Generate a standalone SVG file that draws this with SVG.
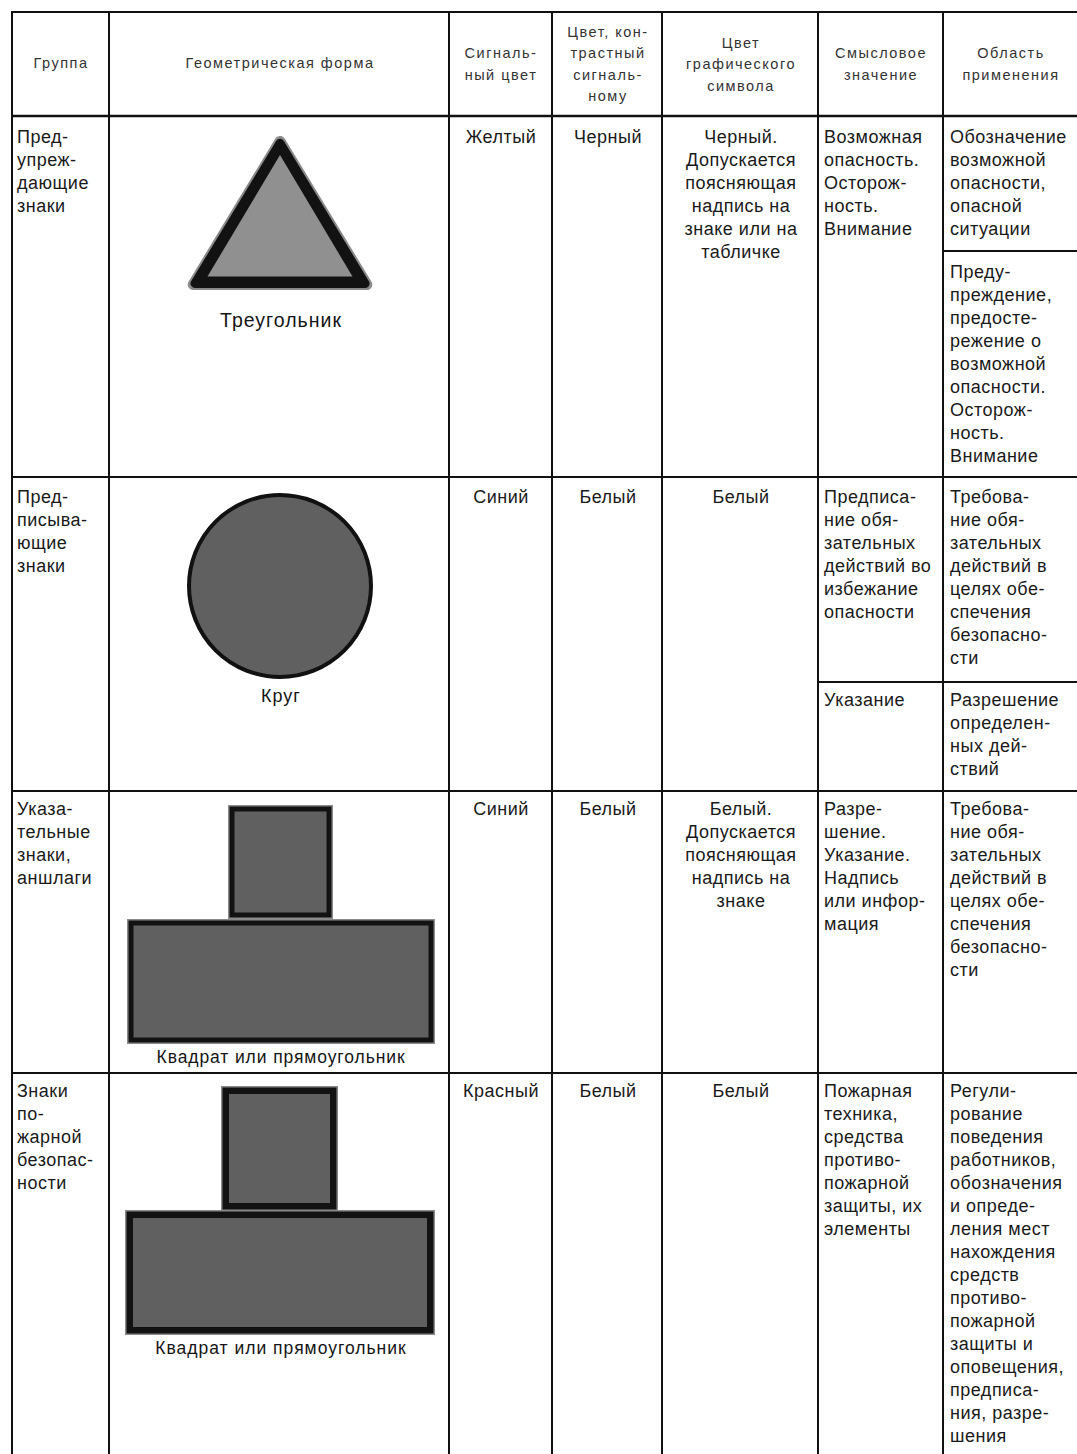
<svg xmlns="http://www.w3.org/2000/svg" width="1077" height="1454" viewBox="0 0 1077 1454">
<style>
.bg{fill:#ffffff}
.ln{stroke:#111;stroke-width:2;fill:none}
.lnh{stroke:#111;stroke-width:2.6;fill:none}
.hd{font-family:"Liberation Sans",Arial,sans-serif;font-size:14.5px;letter-spacing:1.5px;fill:#333;text-anchor:middle}
.t{font-family:"Liberation Sans",Arial,sans-serif;font-size:18px;letter-spacing:0.5px;fill:#1a1a1a}
.c{text-anchor:middle}
.cap{font-family:"Liberation Sans",Arial,sans-serif;fill:#151515;text-anchor:middle}
.dk{fill:#606060}
.blk{fill:#121212}
.gr{fill:#8a8a8a}
</style>
<rect class="bg" x="0" y="0" width="1077" height="1454"/>

<g id="connectors">
  <line class="ln" x1="12" y1="12" x2="1077" y2="12"/>
  <line class="lnh" x1="12" y1="116" x2="1077" y2="116"/>
  <line class="ln" x1="12" y1="477" x2="1077" y2="477"/>
  <line class="ln" x1="12" y1="791" x2="1077" y2="791"/>
  <line class="ln" x1="12" y1="1073" x2="1077" y2="1073"/>
  <line class="ln" x1="943" y1="251" x2="1077" y2="251"/>
  <line class="ln" x1="818" y1="682" x2="1077" y2="682"/>
  <line class="ln" x1="12" y1="11" x2="12" y2="1454"/>
  <line class="ln" x1="109" y1="11" x2="109" y2="1454"/>
  <line class="ln" x1="449" y1="11" x2="449" y2="1454"/>
  <line class="ln" x1="552" y1="11" x2="552" y2="1454"/>
  <line class="ln" x1="662" y1="11" x2="662" y2="1454"/>
  <line class="ln" x1="818" y1="11" x2="818" y2="1454"/>
  <line class="ln" x1="943" y1="11" x2="943" y2="1454"/>
</g>

<g id="header">
  <text class="hd" x="61" y="68">Группа</text>
  <text class="hd" x="280" y="68">Геометрическая форма</text>
  <text class="hd" x="501" y="58">Сигналь-</text>
  <text class="hd" x="501" y="80">ный цвет</text>
  <text class="hd" x="608" y="37">Цвет, кон-</text>
  <text class="hd" x="608" y="58">трастный</text>
  <text class="hd" x="608" y="80">сигналь-</text>
  <text class="hd" x="608" y="101">ному</text>
  <text class="hd" x="741" y="47.5">Цвет</text>
  <text class="hd" x="741" y="69">графического</text>
  <text class="hd" x="741" y="90.5">символа</text>
  <text class="hd" x="881" y="58">Смысловое</text>
  <text class="hd" x="881" y="80">значение</text>
  <text class="hd" x="1011" y="58">Область</text>
  <text class="hd" x="1011" y="80">применения</text>
</g>

<g id="row1">
  <text class="t" x="17" y="143">Пред-</text>
  <text class="t" x="17" y="166">упреж-</text>
  <text class="t" x="17" y="189">дающие</text>
  <text class="t" x="17" y="212">знаки</text>
  <g id="triangle">
    <polygon class="gr" points="280,141.4 193.2,284.5 366.8,284.5" stroke="#8a8a8a" stroke-width="11" stroke-linejoin="round"/>
    <polygon class="blk" points="280,143.3 195,283.5 365,283.5" stroke="#121212" stroke-width="9" stroke-linejoin="round"/>
    <polygon fill="#909090" points="280,155 207.5,276.5 352.5,276.5"/>
  </g>
  <text class="cap" x="281" y="327" style="font-size:19.5px;letter-spacing:1px">Треугольник</text>
  <text class="t c" x="501" y="143">Желтый</text>
  <text class="t c" x="608" y="143">Черный</text>
  <text class="t c" x="741" y="143">Черный.</text>
  <text class="t c" x="741" y="166">Допускается</text>
  <text class="t c" x="741" y="189">поясняющая</text>
  <text class="t c" x="741" y="212">надпись на</text>
  <text class="t c" x="741" y="235">знаке или на</text>
  <text class="t c" x="741" y="258">табличке</text>
  <text class="t" x="824" y="143">Возможная</text>
  <text class="t" x="824" y="166">опасность.</text>
  <text class="t" x="824" y="189">Осторож-</text>
  <text class="t" x="824" y="212">ность.</text>
  <text class="t" x="824" y="235">Внимание</text>
  <text class="t" x="950" y="143">Обозначение</text>
  <text class="t" x="950" y="166">возможной</text>
  <text class="t" x="950" y="189">опасности,</text>
  <text class="t" x="950" y="212">опасной</text>
  <text class="t" x="950" y="235">ситуации</text>
  <text class="t" x="950" y="278">Преду-</text>
  <text class="t" x="950" y="301">преждение,</text>
  <text class="t" x="950" y="324">предосте-</text>
  <text class="t" x="950" y="347">режение о</text>
  <text class="t" x="950" y="370">возможной</text>
  <text class="t" x="950" y="393">опасности.</text>
  <text class="t" x="950" y="416">Осторож-</text>
  <text class="t" x="950" y="439">ность.</text>
  <text class="t" x="950" y="462">Внимание</text>
</g>

<g id="row2">
  <text class="t" x="17" y="503">Пред-</text>
  <text class="t" x="17" y="526">писыва-</text>
  <text class="t" x="17" y="549">ющие</text>
  <text class="t" x="17" y="572">знаки</text>
  <circle id="circle" class="dk" cx="280" cy="586" r="91" stroke="#111" stroke-width="4"/>
  <text class="cap" x="281" y="702" style="font-size:18px;letter-spacing:1px">Круг</text>
  <text class="t c" x="501" y="503">Синий</text>
  <text class="t c" x="608" y="503">Белый</text>
  <text class="t c" x="741" y="503">Белый</text>
  <text class="t" x="824" y="503">Предписа-</text>
  <text class="t" x="824" y="526">ние обя-</text>
  <text class="t" x="824" y="549">зательных</text>
  <text class="t" x="824" y="572">действий во</text>
  <text class="t" x="824" y="595">избежание</text>
  <text class="t" x="824" y="618">опасности</text>
  <text class="t" x="950" y="503">Требова-</text>
  <text class="t" x="950" y="526">ние обя-</text>
  <text class="t" x="950" y="549">зательных</text>
  <text class="t" x="950" y="572">действий в</text>
  <text class="t" x="950" y="595">целях обе-</text>
  <text class="t" x="950" y="618">спечения</text>
  <text class="t" x="950" y="641">безопасно-</text>
  <text class="t" x="950" y="664">сти</text>
  <text class="t" x="824" y="706">Указание</text>
  <text class="t" x="950" y="706">Разрешение</text>
  <text class="t" x="950" y="729">определен-</text>
  <text class="t" x="950" y="752">ных дей-</text>
  <text class="t" x="950" y="775">ствий</text>
</g>

<g id="row3">
  <text class="t" x="17" y="815">Указа-</text>
  <text class="t" x="17" y="838">тельные</text>
  <text class="t" x="17" y="861">знаки,</text>
  <text class="t" x="17" y="884">аншлаги</text>
  <g id="square3">
    <rect class="gr" x="228" y="805" width="105" height="114"/>
    <rect class="blk" x="229.5" y="806.5" width="102" height="111"/>
    <rect class="dk" x="234.5" y="811.5" width="92" height="101"/>
  </g>
  <g id="rect3">
    <rect class="gr" x="127" y="919" width="308" height="125"/>
    <rect class="blk" x="128.5" y="920.5" width="305" height="122"/>
    <rect class="dk" x="133.5" y="925.5" width="295" height="112"/>
  </g>
  <text class="cap" x="281" y="1063" style="font-size:17.5px;letter-spacing:0.9px">Квадрат или прямоугольник</text>
  <text class="t c" x="501" y="815">Синий</text>
  <text class="t c" x="608" y="815">Белый</text>
  <text class="t c" x="741" y="815">Белый.</text>
  <text class="t c" x="741" y="838">Допускается</text>
  <text class="t c" x="741" y="861">поясняющая</text>
  <text class="t c" x="741" y="884">надпись на</text>
  <text class="t c" x="741" y="907">знаке</text>
  <text class="t" x="824" y="815">Разре-</text>
  <text class="t" x="824" y="838">шение.</text>
  <text class="t" x="824" y="861">Указание.</text>
  <text class="t" x="824" y="884">Надпись</text>
  <text class="t" x="824" y="907">или инфор-</text>
  <text class="t" x="824" y="930">мация</text>
  <text class="t" x="950" y="815">Требова-</text>
  <text class="t" x="950" y="838">ние обя-</text>
  <text class="t" x="950" y="861">зательных</text>
  <text class="t" x="950" y="884">действий в</text>
  <text class="t" x="950" y="907">целях обе-</text>
  <text class="t" x="950" y="930">спечения</text>
  <text class="t" x="950" y="953">безопасно-</text>
  <text class="t" x="950" y="976">сти</text>
</g>

<g id="row4">
  <text class="t" x="17" y="1097">Знаки</text>
  <text class="t" x="17" y="1120">по-</text>
  <text class="t" x="17" y="1143">жарной</text>
  <text class="t" x="17" y="1166">безопас-</text>
  <text class="t" x="17" y="1189">ности</text>
  <g id="square4">
    <rect class="gr" x="221" y="1086" width="117" height="125"/>
    <rect class="blk" x="222.5" y="1087.5" width="114" height="122"/>
    <rect class="dk" x="229" y="1094" width="101" height="109"/>
  </g>
  <g id="rect4">
    <rect class="gr" x="125" y="1210" width="310" height="125"/>
    <rect class="blk" x="126.5" y="1211.5" width="307" height="122"/>
    <rect class="dk" x="133" y="1218" width="294" height="109"/>
  </g>
  <text class="cap" x="281" y="1354" style="font-size:17.5px;letter-spacing:1px">Квадрат или прямоугольник</text>
  <text class="t c" x="501" y="1097">Красный</text>
  <text class="t c" x="608" y="1097">Белый</text>
  <text class="t c" x="741" y="1097">Белый</text>
  <text class="t" x="824" y="1097">Пожарная</text>
  <text class="t" x="824" y="1120">техника,</text>
  <text class="t" x="824" y="1143">средства</text>
  <text class="t" x="824" y="1166">противо-</text>
  <text class="t" x="824" y="1189">пожарной</text>
  <text class="t" x="824" y="1212">защиты, их</text>
  <text class="t" x="824" y="1235">элементы</text>
  <text class="t" x="950" y="1097">Регули-</text>
  <text class="t" x="950" y="1120">рование</text>
  <text class="t" x="950" y="1143">поведения</text>
  <text class="t" x="950" y="1166">работников,</text>
  <text class="t" x="950" y="1189">обозначения</text>
  <text class="t" x="950" y="1212">и опреде-</text>
  <text class="t" x="950" y="1235">ления мест</text>
  <text class="t" x="950" y="1258">нахождения</text>
  <text class="t" x="950" y="1281">средств</text>
  <text class="t" x="950" y="1304">противо-</text>
  <text class="t" x="950" y="1327">пожарной</text>
  <text class="t" x="950" y="1350">защиты и</text>
  <text class="t" x="950" y="1373">оповещения,</text>
  <text class="t" x="950" y="1396">предписа-</text>
  <text class="t" x="950" y="1419">ния, разре-</text>
  <text class="t" x="950" y="1442">шения</text>
</g>
</svg>
